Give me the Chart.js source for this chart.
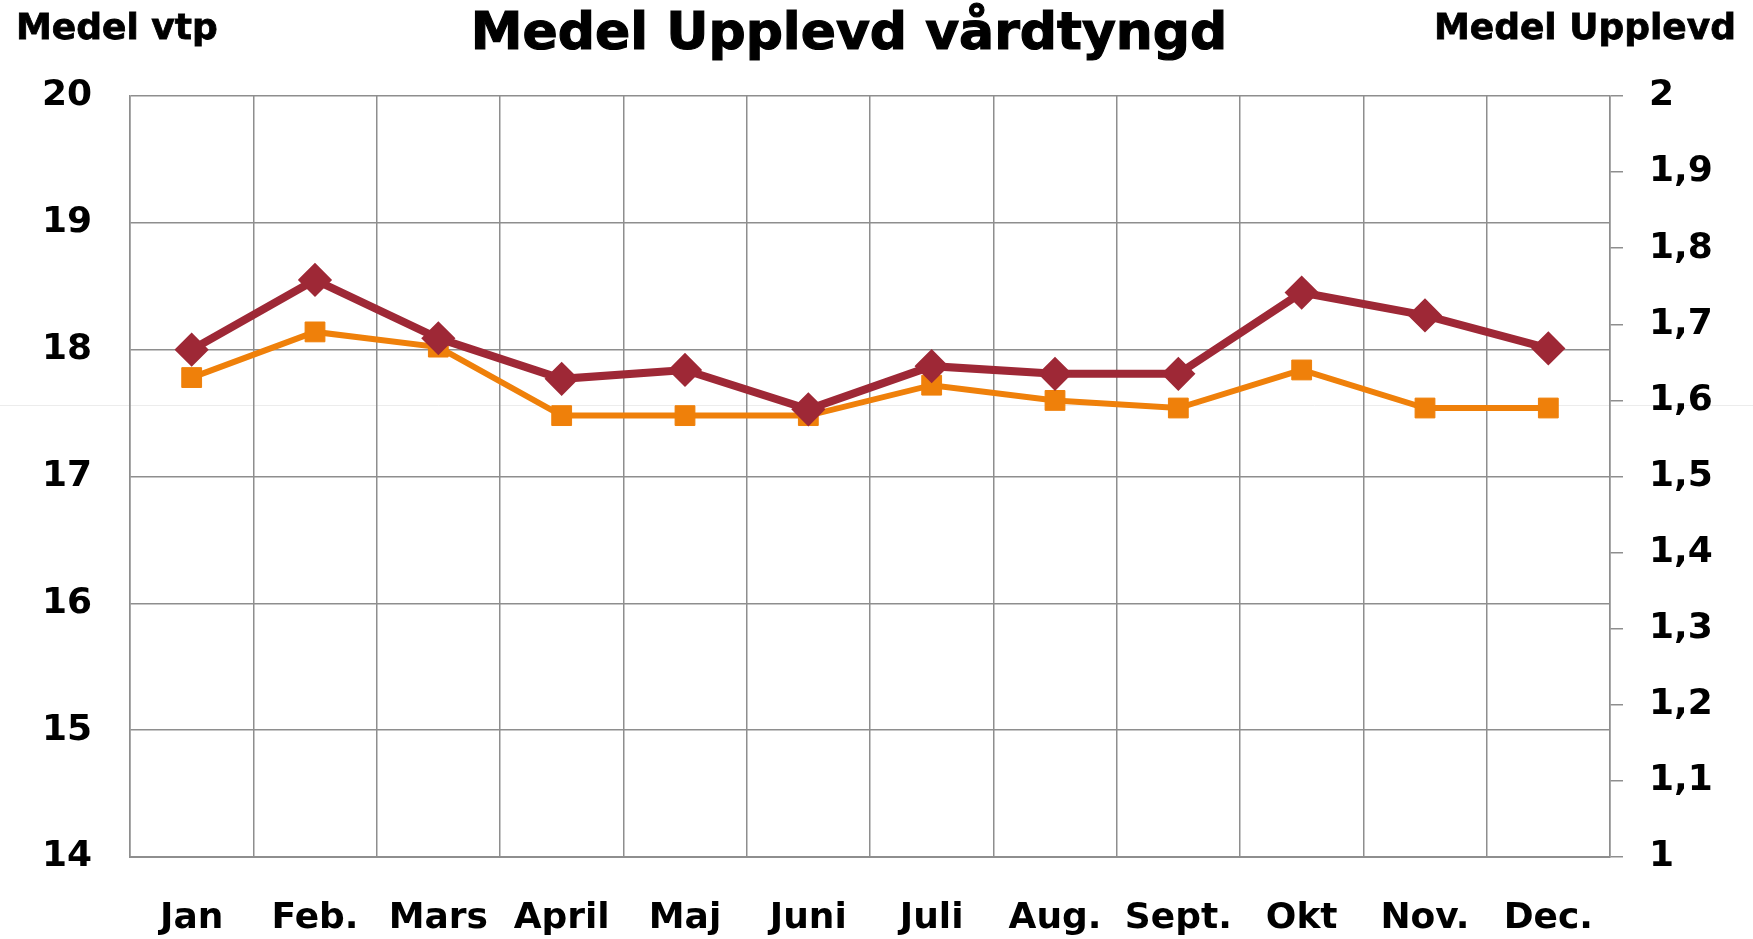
<!DOCTYPE html>
<html>
<head>
<meta charset="utf-8">
<script src="https://cdn.jsdelivr.net/npm/chart.js@4"></script>
<style>
    body { margin: 0; background: #ffffff; }
    #wrap { width: 1753px; height: 939px; position: relative; }
</style>
</head>
<body>
<div id="wrap"><canvas id="diagramCanvas"></canvas></div>
<script>
//Chart content
const chartTitle = 'Medel Upplevd vårdtyngd'
const leftAxisTitle = 'Medel vtp'
const rightAxisTitle = 'Medel Upplevd'

const monthNames = ['Jan', 'Feb.', 'Mars', 'April', 'Maj', 'Juni', 'Juli', 'Aug.', 'Sept.', 'Okt', 'Nov.', 'Dec.']

const vtpValues = [18.0, 18.55, 18.09, 17.77, 17.84, 17.53, 17.87, 17.81, 17.81, 18.45, 18.27, 18.01]
const upplevdValues = [1.63, 1.69, 1.67, 1.58, 1.58, 1.58, 1.62, 1.60, 1.59, 1.64, 1.59, 1.59]

const leftAxisRange = [14, 20]
const rightAxisRange = [1, 2]

const redColor = '#9e2836'
const orangeColor = '#ef800a'
const gridColor = '#8e8e8e'
const fontFamily = '"DejaVu Sans", Verdana, sans-serif'



//Draws the headings above the plot
const headingsPlugin =
{
    id: 'headings',
    beforeDraw(chart)
    {
        const ctx = chart.ctx
        ctx.save()
        //faint line running across the whole picture
        ctx.strokeStyle = '#ececec'
        ctx.lineWidth = 1
        ctx.beginPath()
        ctx.moveTo(0, 405.5)
        ctx.lineTo(chart.width, 405.5)
        ctx.stroke()

        ctx.fillStyle = '#000000'
        ctx.strokeStyle = '#000000'
        ctx.textBaseline = 'alphabetic'
        ctx.font = 'bold 52px ' + fontFamily
        ctx.textAlign = 'center'
        ctx.lineWidth = 1.2
        ctx.fillText(chartTitle, 849, 49)
        ctx.strokeText(chartTitle, 849, 49)
        ctx.font = 'bold 36px ' + fontFamily
        ctx.lineWidth = 0.8
        ctx.textAlign = 'left'
        ctx.fillText(leftAxisTitle, 16, 39)
        ctx.strokeText(leftAxisTitle, 16, 39)
        ctx.textAlign = 'right'
        ctx.fillText(rightAxisTitle, 1736, 39)
        ctx.strokeText(rightAxisTitle, 1736, 39)
        ctx.restore()
    }
}

const diagramCanvas = document.getElementById('diagramCanvas')
const diagramChart = new Chart(
    diagramCanvas,
    {
        type: 'line',
        data:
        {
            labels: monthNames,
            datasets:
                [{
                    data: vtpValues,
                    yAxisID: 'y',
                    borderColor: redColor,
                    backgroundColor: redColor,
                    borderWidth: 8,
                    pointStyle: 'rectRot',
                    pointRadius: 15,
                    pointBorderWidth: 3,
                    pointBorderColor: redColor,
                    pointBackgroundColor: redColor,
                    tension: 0,
                    order: 1
                },
                {
                    data: upplevdValues,
                    yAxisID: 'y2',
                    borderColor: orangeColor,
                    backgroundColor: orangeColor,
                    borderWidth: 6,
                    pointStyle: 'rect',
                    pointRadius: 14,
                    pointBorderWidth: 1,
                    pointBorderColor: orangeColor,
                    pointBackgroundColor: orangeColor,
                    tension: 0,
                    order: 2
                }]
        },
        options:
        {
            responsive: true,
            maintainAspectRatio: false,
            animation: false,
            layout:
            {
                padding: { top: 96, left: 0, right: 0, bottom: 0 }
            },
            font: { family: fontFamily },
            scales:
            {
                x:
                {
                    offset: true,
                    afterFit: scale => { scale.height = 82 },
                    border: { color: gridColor, width: 2 },
                    grid:
                    {
                        color: gridColor,
                        lineWidth: 1.5,
                        offset: true,
                        drawTicks: false
                    },
                    ticks:
                    {
                        color: '#000000',
                        padding: 40,
                        maxRotation: 0,
                        autoSkip: false,
                        font: { family: fontFamily, size: 36, weight: 'bold' }
                    }
                },
                y:
                {
                    position: 'left',
                    min: leftAxisRange[0],
                    max: leftAxisRange[1],
                    afterFit: scale => { scale.width = 130 },
                    border: { color: gridColor, width: 1.5 },
                    grid:
                    {
                        color: gridColor,
                        lineWidth: 1.5,
                        drawTicks: false
                    },
                    ticks:
                    {
                        stepSize: 1,
                        color: '#000000',
                        padding: 38,
                        font: { family: fontFamily, size: 36, weight: 'bold' }
                    }
                },
                y2:
                {
                    position: 'right',
                    min: rightAxisRange[0],
                    max: rightAxisRange[1],
                    afterFit: scale => { scale.width = 143 },
                    border: { color: gridColor, width: 1.5 },
                    grid:
                    {
                        color: gridColor,
                        lineWidth: 1.5,
                        drawOnChartArea: false,
                        drawTicks: true,
                        tickLength: 13
                    },
                    ticks:
                    {
                        stepSize: 0.1,
                        color: '#000000',
                        padding: 26,
                        font: { family: fontFamily, size: 36, weight: 'bold' },
                        callback: value => (Math.round(value * 10) / 10).toString().replace('.', ',')
                    }
                }
            },
            plugins:
            {
                legend: { display: false },
                title: { display: false },
                tooltip: { enabled: false }
            }
        },
        plugins: [headingsPlugin]
    }
);
</script>
</body>
</html>
